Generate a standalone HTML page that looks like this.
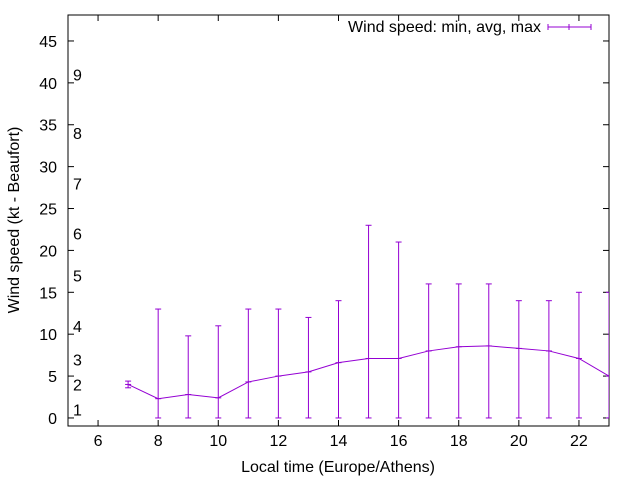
<!DOCTYPE html>
<html><head><meta charset="utf-8"><style>body{margin:0;background:#fff}svg{display:block;font-family:"Liberation Sans",sans-serif}</style></head>
<body>
<svg id="chart" width="640" height="480" viewBox="0 0 640 480"></svg>
<script>
const hours=[7,8,9,10,11,12,13,14,15,16,17,18,19,20,21,22,23];
const avgSpeed=[4.0,2.3,2.8,2.4,4.3,5.0,5.5,6.6,7.1,7.1,8.0,8.5,8.6,8.3,8.0,7.1,5.0];
const minSpeed=[3.6,0,0,0,0,0,0,0,0,0,0,0,0,0,0,0,0];
const maxSpeed=[4.4,13,9.8,11,13,13,12,14,23,21,16,16,16,14,14,15,15];
const xTicks=[6,8,10,12,14,16,18,20,22];
const yTicks=[0,5,10,15,20,25,30,35,40,45];
const bftLabels=["1","2","3","4","5","6","7","8","9"];
const bftPos=[1,4,7,11,17,22,28,34,41];
const L=68,R=609,T=15,B=426,X0=5,X1=23,Y0=-0.96,Y1=48.1;
const sx=v=>L+(v-X0)/(X1-X0)*(R-L);
const sy=v=>B-(v-Y0)/(Y1-Y0)*(B-T);
const svg=document.getElementById('chart');
const NS='http://www.w3.org/2000/svg';
function mk(tag,attrs,parent){const e=document.createElementNS(NS,tag);for(const k in attrs)e.setAttribute(k,attrs[k]);(parent||svg).appendChild(e);return e;}
const clip=mk('clipPath',{id:'pc'});mk('rect',{x:L,y:T,width:R-L,height:B-T},clip);
const axes=mk('g',{});

xTicks.forEach(v=>{const x=sx(v);
 mk('line',{x1:x,y1:B,x2:x,y2:B-6,stroke:'#000'},axes);mk('line',{x1:x,y1:T,x2:x,y2:T+6,stroke:'#000'},axes);
 const t=mk('text',{x:x,y:B+20,'font-size':16,'text-anchor':'middle',fill:'#000'},axes);t.textContent=v;
 });
yTicks.forEach(v=>{const y=sy(v);
 mk('line',{x1:L,y1:y,x2:L+6,y2:y,stroke:'#000'},axes);mk('line',{x1:R,y1:y,x2:R-6,y2:y,stroke:'#000'},axes);
 const t=mk('text',{x:L-11,y:y+6,'font-size':16,'text-anchor':'end',fill:'#000'},axes);t.textContent=v;
 });
bftLabels.forEach((s,i)=>{const t=mk('text',{x:73,y:sy(bftPos[i])+6,'font-size':16,fill:'#000'},axes);t.textContent=s;
 });
mk('rect',{x:L,y:T,width:R-L,height:B-T,fill:'none',stroke:'#000'},axes);
const xt=mk('text',{x:338,y:472,'font-size':16,'text-anchor':'middle'});xt.textContent='Local time (Europe/Athens)';

const yt=mk('text',{x:0,y:0,'font-size':16,'text-anchor':'middle',transform:'translate(19,220) rotate(-90)'});yt.textContent='Wind speed (kt - Beaufort)';

const g=mk('g',{'clip-path':'url(#pc)',stroke:'#9400d3','stroke-width':1,fill:'none'});

mk('polyline',{points:hours.map((h,i)=>sx(h)+','+sy(avgSpeed[i])).join(' ')},g);
hours.forEach((h,i)=>{const x=sx(h);const e=mk('g',{},g);
 
 mk('line',{x1:x,y1:sy(minSpeed[i]),x2:x,y2:sy(maxSpeed[i])},e);
 mk('line',{x1:x-3,y1:sy(minSpeed[i]),x2:x+3,y2:sy(minSpeed[i])},e);
 mk('line',{x1:x-3,y1:sy(maxSpeed[i]),x2:x+3,y2:sy(maxSpeed[i])},e);
 mk('line',{x1:x-3,y1:sy(avgSpeed[i]),x2:x+3,y2:sy(avgSpeed[i])},e);});
const lg=mk('g',{});
const lt=mk('text',{x:541,y:32,'font-size':16,'text-anchor':'end'},lg);lt.textContent='Wind speed: min, avg, max';
mk('line',{x1:548,y1:27,x2:591,y2:27,stroke:'#9400d3'},lg);
mk('line',{x1:548,y1:24,x2:548,y2:30,stroke:'#9400d3'},lg);
mk('line',{x1:591,y1:24,x2:591,y2:30,stroke:'#9400d3'},lg);
mk('line',{x1:569,y1:24,x2:569,y2:30,stroke:'#9400d3'},lg);
</script>
</body></html>
